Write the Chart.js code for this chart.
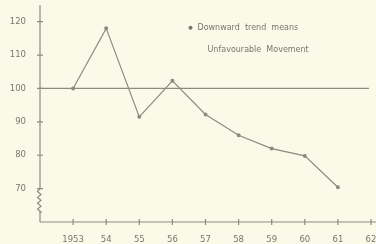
<!DOCTYPE html>
<html>
<head>
<meta charset="utf-8">
<script src="https://cdn.jsdelivr.net/npm/chart.js@4"></script>
<style>
  html, body { margin: 0; padding: 0; background: #fbfae8; }
  #wrap { width: 376px; height: 244px; }
</style>
</head>
<body>
<div id="wrap"><canvas id="myChart" width="376" height="244"></canvas></div>
<script>
var years = [1953, 1954, 1955, 1956, 1957, 1958, 1959, 1960, 1961];
var index = [100, 118, 91.5, 102.3, 92.2, 86, 82, 79.8, 70.4];
var xTicks = [1953, 1954, 1955, 1956, 1957, 1958, 1959, 1960, 1961, 1962];
var xTickLabels = ["1953", "54", "55", "56", "57", "58", "59", "60", "61", "62"];
var yTicks = [70, 80, 90, 100, 110, 120];
var baseLevel = 100;
var noteLines = ["Downward  trend  means", "Unfavourable  Movement"];

var ink = '#8b8b80';
var textInk = '#77776c';

// axes with crossing tick marks, zigzag break on y axis, base line, note
var decorPlugin = {
    id: 'decor',
    afterDraw: function (chart) {
        var ctx = chart.ctx;
        var xs = chart.scales.x, ys = chart.scales.y;
        var area = chart.chartArea;
        var x0 = xs.getPixelForValue(xs.min);
        ctx.save();
        ctx.strokeStyle = ink;
        ctx.lineWidth = 1.2;
        // y axis with break
        var y70 = ys.getPixelForValue(70);
        var yBreakEnd = ys.getPixelForValue(63);
        ctx.beginPath();
        ctx.moveTo(x0, area.top);
        ctx.lineTo(x0, y70);
        var n = 8, step = (yBreakEnd - y70) / n;
        for (var i = 1; i <= n; i++) {
            ctx.lineTo(x0 + (i % 2 ? -2.5 : 1), y70 + step * i);
        }
        ctx.lineTo(x0, yBreakEnd);
        ctx.lineTo(x0, area.bottom);
        // x axis
        ctx.moveTo(x0, area.bottom);
        ctx.lineTo(chart.width, area.bottom);
        ctx.stroke();
        // tick marks
        ctx.beginPath();
        yTicks.forEach(function (v) {
            var p = ys.getPixelForValue(v);
            ctx.moveTo(x0 - 3, p); ctx.lineTo(x0 + 3, p);
        });
        xTicks.forEach(function (v) {
            var p = xs.getPixelForValue(v);
            ctx.moveTo(p, area.bottom - 3); ctx.lineTo(p, area.bottom + 3);
        });
        ctx.stroke();
        // base line
        var yb = ys.getPixelForValue(baseLevel);
        ctx.beginPath();
        ctx.lineWidth = 1.3;
        ctx.moveTo(x0, yb);
        ctx.lineTo(area.right - 2, yb);
        ctx.stroke();
        // note text
        ctx.fillStyle = textInk;
        ctx.font = '8px "DejaVu Sans", sans-serif';
        ctx.textBaseline = 'middle';
        var nx = xs.getPixelForValue(1957.0);
        var ny1 = ys.getPixelForValue(118.2);
        var ny2 = ys.getPixelForValue(111.4);
        ctx.beginPath();
        ctx.arc(nx - 15, ny1, 2, 0, Math.PI * 2);
        ctx.fill();
        ctx.fillText(noteLines[0], nx - 8, ny1);
        ctx.fillText(noteLines[1], nx + 2, ny2);
        ctx.restore();
    }
};

var ctx = document.getElementById('myChart').getContext('2d');
var myChart = new Chart(ctx, {
    type: 'line',
    data: {
        datasets: [{
            label: 'Index',
            data: years.map(function (y, i) { return { x: y, y: index[i] }; }),
            borderColor: ink,
            backgroundColor: ink,
            borderWidth: 1.2,
            pointRadius: 1.4,
            pointHoverRadius: 1.4,
            tension: 0
        }]
    },
    options: {
        responsive: false,
        animation: false,
        layout: { padding: { top: 5, right: 5, left: 0, bottom: 0 } },
        plugins: { legend: { display: false }, tooltip: { enabled: false } },
        scales: {
            x: {
                type: 'linear',
                min: 1952, max: 1962,
                afterBuildTicks: function (s) { s.ticks = xTicks.map(function (v) { return { value: v }; }); },
                afterFit: function (s) { s.height = 22; s.paddingLeft = 0; s.paddingRight = 0; },
                grid: { display: false },
                border: { display: false },
                ticks: {
                    color: textInk,
                    font: { family: '"DejaVu Sans", sans-serif', size: 8.5 },
                    padding: 5,
                    maxRotation: 0,
                    autoSkip: false,
                    callback: function (v) { var k = xTicks.indexOf(v); return k < 0 ? '' : xTickLabels[k]; }
                }
            },
            y: {
                min: 60, max: 125,
                afterBuildTicks: function (s) { s.ticks = yTicks.map(function (v) { return { value: v }; }); },
                afterFit: function (s) { s.width = 40; s.paddingTop = 0; s.paddingBottom = 0; },
                grid: { display: false },
                border: { display: false },
                ticks: {
                    color: textInk,
                    font: { family: '"DejaVu Sans", sans-serif', size: 8.5 },
                    padding: 6
                }
            }
        }
    },
    plugins: [decorPlugin]
});
</script>
</body>
</html>
